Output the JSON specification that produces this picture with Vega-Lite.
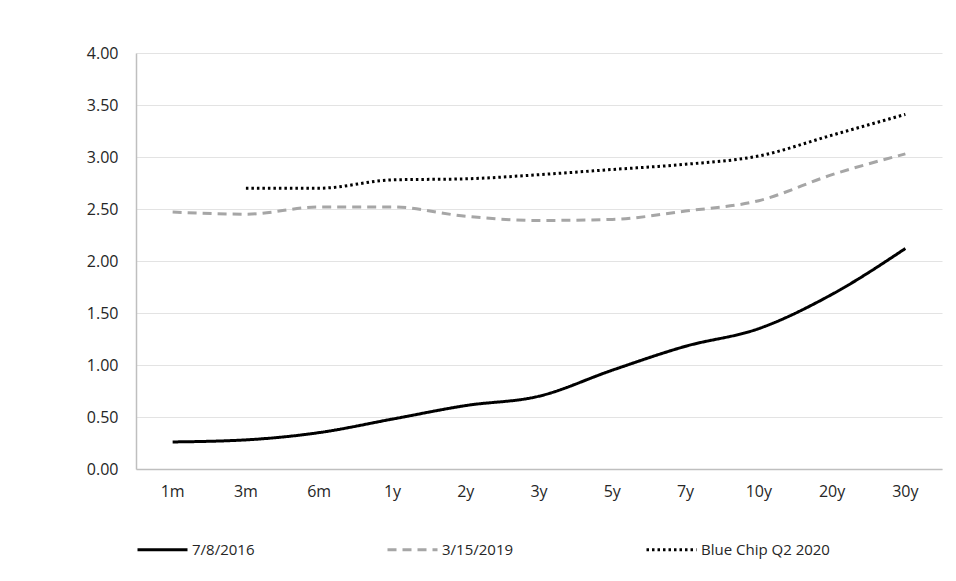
{
  "$schema": "https://vega.github.io/schema/vega-lite/v6.json",
  "width": 956,
  "height": 581,
  "autosize": {"type": "fit", "contains": "padding"},
  "padding": {"left": 86, "top": 45, "right": 14, "bottom": 23},
  "background": "white",
  "config": {
    "font": "Open Sans",
    "view": {"stroke": null},
    "axis": {"labelFont": "Open Sans", "labelFontSize": 16, "labelColor": "#262626"}
  },
  "data": {
    "values": [
      {"term": "1m", "series": "7/8/2016", "yield": 0.26},
      {"term": "3m", "series": "7/8/2016", "yield": 0.28},
      {"term": "6m", "series": "7/8/2016", "yield": 0.35},
      {"term": "1y", "series": "7/8/2016", "yield": 0.48},
      {"term": "2y", "series": "7/8/2016", "yield": 0.61},
      {"term": "3y", "series": "7/8/2016", "yield": 0.70},
      {"term": "5y", "series": "7/8/2016", "yield": 0.95},
      {"term": "7y", "series": "7/8/2016", "yield": 1.18},
      {"term": "10y", "series": "7/8/2016", "yield": 1.35},
      {"term": "20y", "series": "7/8/2016", "yield": 1.68},
      {"term": "30y", "series": "7/8/2016", "yield": 2.12},
      {"term": "1m", "series": "3/15/2019", "yield": 2.47},
      {"term": "3m", "series": "3/15/2019", "yield": 2.45},
      {"term": "6m", "series": "3/15/2019", "yield": 2.52},
      {"term": "1y", "series": "3/15/2019", "yield": 2.52},
      {"term": "2y", "series": "3/15/2019", "yield": 2.43},
      {"term": "3y", "series": "3/15/2019", "yield": 2.39},
      {"term": "5y", "series": "3/15/2019", "yield": 2.40},
      {"term": "7y", "series": "3/15/2019", "yield": 2.48},
      {"term": "10y", "series": "3/15/2019", "yield": 2.58},
      {"term": "20y", "series": "3/15/2019", "yield": 2.83},
      {"term": "30y", "series": "3/15/2019", "yield": 3.03},
      {"term": "3m", "series": "Blue Chip Q2 2020", "yield": 2.70},
      {"term": "6m", "series": "Blue Chip Q2 2020", "yield": 2.70},
      {"term": "1y", "series": "Blue Chip Q2 2020", "yield": 2.78},
      {"term": "2y", "series": "Blue Chip Q2 2020", "yield": 2.79},
      {"term": "3y", "series": "Blue Chip Q2 2020", "yield": 2.83},
      {"term": "5y", "series": "Blue Chip Q2 2020", "yield": 2.88},
      {"term": "7y", "series": "Blue Chip Q2 2020", "yield": 2.93},
      {"term": "10y", "series": "Blue Chip Q2 2020", "yield": 3.01},
      {"term": "20y", "series": "Blue Chip Q2 2020", "yield": 3.21},
      {"term": "30y", "series": "Blue Chip Q2 2020", "yield": 3.41}
    ]
  },
  "mark": {"type": "line", "interpolate": "monotone", "strokeWidth": 3},
  "encoding": {
    "x": {
      "field": "term", "type": "ordinal",
      "sort": ["1m", "3m", "6m", "1y", "2y", "3y", "5y", "7y", "10y", "20y", "30y"],
      "scale": {"type": "band", "paddingInner": 0, "paddingOuter": 0},
      "axis": {"title": null, "labelAngle": 0, "ticks": false, "labelPadding": 14,
               "domainColor": "#bfbfbf", "domainWidth": 1.5, "grid": false}
    },
    "y": {
      "field": "yield", "type": "quantitative",
      "scale": {"domain": [0, 4], "nice": false},
      "axis": {"title": null, "values": [0, 0.5, 1, 1.5, 2, 2.5, 3, 3.5, 4], "format": ".2f",
               "ticks": false, "labelPadding": 18, "domain": true, "domainColor": "#bfbfbf", "domainWidth": 1.5,
               "gridColor": "#e3e3e3", "gridWidth": 1.2}
    },
    "color": {
      "field": "series", "type": "nominal",
      "scale": {"domain": ["7/8/2016", "3/15/2019", "Blue Chip Q2 2020"], "range": ["#000000", "#a6a6a6", "#000000"]},
      "legend": {
        "title": null, "orient": "bottom", "offset": 24,
        "direction": "horizontal", "columns": 3, "columnPadding": 126,
        "symbolType": "stroke", "symbolSize": 2500, "symbolStrokeWidth": 3,
        "labelFontSize": 15, "labelFont": "Open Sans", "labelColor": "#262626", "labelOffset": 3
      }
    },
    "strokeDash": {
      "field": "series", "type": "nominal",
      "scale": {"domain": ["7/8/2016", "3/15/2019", "Blue Chip Q2 2020"], "range": [[1, 0], [9, 6], [2.5, 3]]}
    }
  }
}
